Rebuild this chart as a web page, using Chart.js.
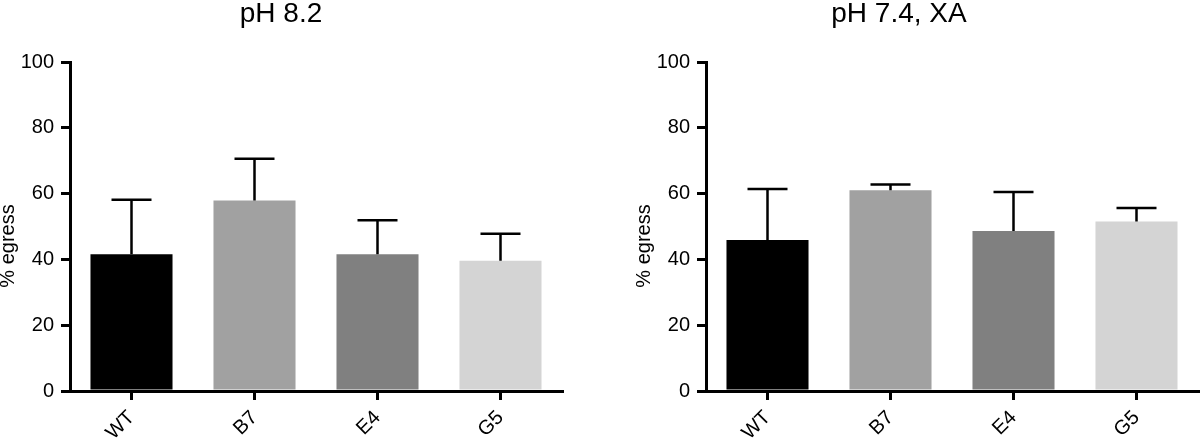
<!DOCTYPE html>
<html>
<head>
<meta charset="utf-8">
<title>% egress</title>
<script src="https://cdn.jsdelivr.net/npm/chart.js@4.4.1/dist/chart.umd.min.js"></script>
<style>
  html, body { margin: 0; padding: 0; background: #fff; }
  .wrap { position: relative; width: 1200px; height: 444px; }
  .panel { position: absolute; top: 0; width: 600px; height: 444px; }
  #left-panel { left: 0; }
  #right-panel { left: 600px; }
</style>
</head>
<body>
<div class="wrap">
  <div class="panel" id="left-panel"><canvas id="chart-ph82" width="600" height="444"></canvas></div>
  <div class="panel" id="right-panel"><canvas id="chart-ph74" width="600" height="444"></canvas></div>
</div>
<script>
/* =========================================================
   Data
   ========================================================= */
const categories = ['WT', 'B7', 'E4', 'G5'];

// pH 8.2 panel: mean and upper error (SD)
const ph82Means  = [41.6, 57.9, 41.6, 39.6];
const ph82Errors = [16.5, 12.7, 10.3, 8.2];

// pH 7.4, XA panel
const ph74Means  = [45.9, 61.0, 48.6, 51.5];
const ph74Errors = [15.5, 1.8, 11.9, 4.1];

const yTicks = [0, 20, 40, 60, 80, 100];

const barColors = ['#000000', '#a1a1a1', '#808080', '#d4d4d4'];
const FONT = "'Liberation Sans', Arial, sans-serif";

/* =========================================================
   Plugin: upper error bars drawn from the y scale
   ========================================================= */
const errorBarPlugin = {
  id: 'errorBars',
  afterDatasetsDraw(chart) {
    const errs = chart.options.plugins.errorBars.errors;
    const meta = chart.getDatasetMeta(0);
    const yScale = chart.scales.y;
    const values = chart.data.datasets[0].data;
    const ctx = chart.ctx;
    ctx.save();
    ctx.strokeStyle = '#000';
    ctx.lineWidth = 2.5;
    meta.data.forEach((bar, i) => {
      const yBase = yScale.getPixelForValue(values[i]);
      const yTop = yScale.getPixelForValue(values[i] + errs[i]);
      ctx.beginPath();
      ctx.moveTo(bar.x, yBase);
      ctx.lineTo(bar.x, yTop);
      ctx.moveTo(bar.x - 20, yTop);
      ctx.lineTo(bar.x + 20, yTop);
      ctx.stroke();
    });
    ctx.restore();
  }
};

function buildPanel(canvasId, title, means, errors, layout) {
  const ctx = document.getElementById(canvasId).getContext('2d');
  return new Chart(ctx, {
    type: 'bar',
    data: {
      labels: categories,
      datasets: [{
        data: means,
        backgroundColor: barColors,
        borderWidth: 0,
        barPercentage: 0.667,
        categoryPercentage: 1.0
      }]
    },
    options: {
      responsive: false,
      animation: false,
      layout: { padding: { left: 0, right: layout.rightPad, top: 0, bottom: 0 } },
      plugins: {
        legend: { display: false },
        tooltip: { enabled: false },
        title: {
          display: true,
          text: title,
          color: '#000',
          font: { family: FONT, size: 28, weight: 'normal', lineHeight: 1 },
          padding: { top: 0, bottom: 34 }
        },
        errorBars: { errors }
      },
      scales: {
        x: {
          type: 'category',
          offset: true,
          grid: {
            offset: false,
            drawOnChartArea: false,
            color: '#000',
            lineWidth: 3,
            tickLength: 9
          },
          border: { display: true, color: '#000', width: 3 },
          ticks: {
            color: '#000',
            font: { family: FONT, size: 20 },
            minRotation: 45,
            maxRotation: 45,
            autoSkip: false,
            padding: 6
          },
          afterFit: scale => { scale.height = 53; }
        },
        y: {
          min: 0,
          max: 100,
          afterBuildTicks: scale => { scale.ticks = yTicks.map(v => ({ value: v })); },
          grid: {
            drawOnChartArea: false,
            color: '#000',
            lineWidth: 3,
            tickLength: 9
          },
          border: { display: true, color: '#000', width: 3 },
          ticks: {
            color: '#000',
            font: { family: FONT, size: 20 },
            padding: 7
          },
          title: {
            display: true,
            text: '% egress       ',
            color: '#000',
            font: { family: FONT, size: 20, lineHeight: 1 },
            padding: { top: layout.titlePad, bottom: 0 }
          },
          afterFit: scale => { scale.width = layout.yWidth; }
        }
      }
    },
    plugins: [errorBarPlugin]
  });
}

document.addEventListener('DOMContentLoaded', () => {
  buildPanel('chart-ph82', 'pH 8.2', ph82Means, ph82Errors,
    { yWidth: 70, rightPad: 38, titlePad: -2 });
  buildPanel('chart-ph74', 'pH 7.4, XA', ph74Means, ph74Errors,
    { yWidth: 106, rightPad: 2, titlePad: 34 });
});
</script>
</body>
</html>
